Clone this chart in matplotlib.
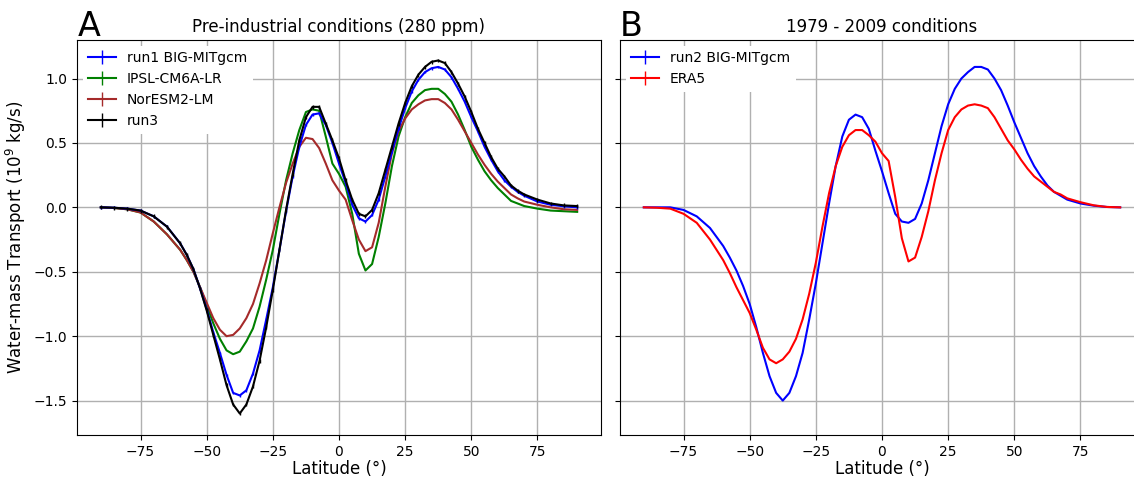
import numpy as np
import matplotlib
matplotlib.use("Agg")
import matplotlib.pyplot as plt

# latitude grid (degrees) shared by all curves
lat = [-90, -85, -80, -75, -70, -65, -60, -57.5, -55, -52.5, -50, -47.5, -45,
       -42.5, -40, -37.5, -35, -32.5, -30, -27.5, -25, -22.5, -20, -17.5, -15,
       -12.5, -10, -7.5, -5, -2.5, 0, 2.5, 5, 7.5, 10, 12.5, 15, 17.5, 20, 22.5,
       25, 27.5, 30, 32.5, 35, 37.5, 40, 42.5, 45, 47.5, 50, 52.5, 55, 57.5, 60,
       62.5, 65, 67.5, 70, 75, 80, 85, 90]

# panel A: pre-industrial (1e9 kg/s)
run1 = [0.0, -0.003, -0.01, -0.025, -0.07, -0.15, -0.28, -0.37, -0.48, -0.63,
        -0.79, -0.97, -1.13, -1.30, -1.44, -1.46, -1.42, -1.29, -1.11, -0.87,
        -0.62, -0.33, -0.03, 0.24, 0.47, 0.64, 0.72, 0.73, 0.64, 0.50, 0.34,
        0.19, 0.02, -0.085, -0.11, -0.06, 0.06, 0.24, 0.43, 0.61, 0.77, 0.90,
        0.99, 1.05, 1.08, 1.09, 1.07, 1.01, 0.92, 0.82, 0.70, 0.59, 0.47, 0.37,
        0.28, 0.21, 0.16, 0.12, 0.09, 0.045, 0.02, 0.008, 0.0]
ipsl = [0.0, -0.005, -0.015, -0.04, -0.11, -0.21, -0.33, -0.41, -0.50, -0.62,
        -0.76, -0.90, -1.02, -1.11, -1.14, -1.12, -1.04, -0.94, -0.77, -0.56,
        -0.33, -0.05, 0.21, 0.42, 0.60, 0.74, 0.76, 0.75, 0.55, 0.34, 0.26,
        0.16, -0.05, -0.36, -0.49, -0.44, -0.23, 0.03, 0.32, 0.55, 0.70, 0.81,
        0.87, 0.91, 0.92, 0.92, 0.88, 0.82, 0.72, 0.60, 0.47, 0.37, 0.28, 0.21,
        0.15, 0.10, 0.05, 0.03, 0.01, -0.01, -0.025, -0.03, -0.035]
noresm = [0.0, -0.005, -0.015, -0.04, -0.11, -0.21, -0.33, -0.41, -0.50, -0.62,
          -0.74, -0.86, -0.95, -1.00, -0.99, -0.94, -0.86, -0.75, -0.59, -0.41,
          -0.20, 0.0, 0.19, 0.34, 0.47, 0.54, 0.53, 0.46, 0.34, 0.21, 0.13,
          0.06, -0.10, -0.25, -0.34, -0.31, -0.12, 0.16, 0.42, 0.59, 0.69, 0.76,
          0.80, 0.83, 0.84, 0.84, 0.81, 0.76, 0.68, 0.59, 0.50, 0.41, 0.33, 0.26,
          0.20, 0.15, 0.10, 0.07, 0.045, 0.02, 0.0, -0.015, -0.02]
run3 = [0.0, -0.003, -0.01, -0.025, -0.07, -0.15, -0.28, -0.37, -0.48, -0.63,
        -0.80, -0.99, -1.18, -1.38, -1.53, -1.60, -1.53, -1.39, -1.19, -0.93,
        -0.64, -0.33, -0.02, 0.26, 0.52, 0.70, 0.78, 0.78, 0.65, 0.52, 0.38,
        0.21, 0.06, -0.05, -0.07, -0.02, 0.11, 0.29, 0.47, 0.65, 0.81, 0.94,
        1.03, 1.09, 1.13, 1.14, 1.12, 1.05, 0.96, 0.86, 0.74, 0.61, 0.50, 0.39,
        0.30, 0.24, 0.17, 0.13, 0.10, 0.06, 0.03, 0.015, 0.01]

# panel B: 1979-2009
run2 = [0.0, 0.0, 0.0, -0.02, -0.07, -0.16, -0.30, -0.39, -0.49, -0.61, -0.75,
        -0.93, -1.13, -1.31, -1.44, -1.50, -1.44, -1.31, -1.13, -0.87, -0.59,
        -0.28, 0.03, 0.32, 0.55, 0.68, 0.72, 0.70, 0.61, 0.44, 0.28, 0.11,
        -0.05, -0.11, -0.12, -0.09, 0.03, 0.21, 0.42, 0.63, 0.80, 0.92, 1.00,
        1.05, 1.09, 1.09, 1.07, 1.00, 0.91, 0.79, 0.66, 0.54, 0.42, 0.32, 0.24,
        0.17, 0.12, 0.09, 0.06, 0.03, 0.013, 0.003, 0.0]
era5 = [0.0, -0.003, -0.01, -0.05, -0.12, -0.25, -0.41, -0.51, -0.62, -0.72,
        -0.82, -0.95, -1.09, -1.18, -1.21, -1.18, -1.12, -1.02, -0.87, -0.67,
        -0.43, -0.15, 0.11, 0.32, 0.47, 0.56, 0.60, 0.60, 0.56, 0.51, 0.42,
        0.36, 0.08, -0.24, -0.42, -0.39, -0.23, -0.03, 0.21, 0.42, 0.60, 0.70,
        0.76, 0.79, 0.80, 0.79, 0.77, 0.70, 0.61, 0.52, 0.45, 0.37, 0.30, 0.24,
        0.20, 0.16, 0.12, 0.10, 0.07, 0.04, 0.016, 0.003, 0.0]

# spread used for the error bars
err_run3 = 0.015
err_run1 = 0.01
err_cmip = 0.0

fig = plt.figure(figsize=(11.34, 4.79), dpi=100)
axA = fig.add_axes([77 / 1134, 44 / 479, 524 / 1134, 395 / 479])
axB = fig.add_axes([620 / 1134, 44 / 479, 524 / 1134, 395 / 479], sharey=axA)

ebkw = dict(lw=1.5, elinewidth=1.0, capsize=0)

axA.errorbar(lat, run1, yerr=err_run1, color='blue', label='run1 BIG-MITgcm', zorder=4, **ebkw)
axA.errorbar(lat, ipsl, yerr=err_cmip, color='green', label='IPSL-CM6A-LR', zorder=3, **ebkw)
axA.errorbar(lat, noresm, yerr=err_cmip, color='brown', label='NorESM2-LM', zorder=3, **ebkw)
axA.errorbar(lat, run3, yerr=err_run3, color='black', label='run3', zorder=5, **ebkw)

axB.errorbar(lat, run2, yerr=err_cmip, color='blue', label='run2 BIG-MITgcm', **ebkw)
axB.errorbar(lat, era5, yerr=err_cmip, color='red', label='ERA5', **ebkw)

for ax in (axA, axB):
    ax.set_xlim(-99, 99)
    ax.set_xticks([-75, -50, -25, 0, 25, 50, 75])
    ax.grid(True, color='#b0b0b0', lw=1.0)
    ax.set_axisbelow(True)
    ax.tick_params(labelsize=10)
    ax.set_xlabel('Latitude (°)', fontsize=12, labelpad=1)
    ax.legend(loc='upper left', fontsize=10, frameon=True, framealpha=1,
              edgecolor='none', borderaxespad=0.4)

axA.set_ylim(-1.767, 1.299)
axA.set_yticks([-1.5, -1.0, -0.5, 0.0, 0.5, 1.0])
axA.set_ylabel('Water-mass Transport (10$^9$ kg/s)', fontsize=12)
axB.tick_params(labelleft=False)

axA.set_title('Pre-industrial conditions (280 ppm)', fontsize=12)
axB.set_title('1979 - 2009 conditions', fontsize=12)
fig.text(78 / 1134, 1 - 36 / 479, 'A', fontsize=24, va='baseline')
fig.text(620 / 1134, 1 - 36 / 479, 'B', fontsize=24, va='baseline')

fig.savefig('out.png', dpi=100)
